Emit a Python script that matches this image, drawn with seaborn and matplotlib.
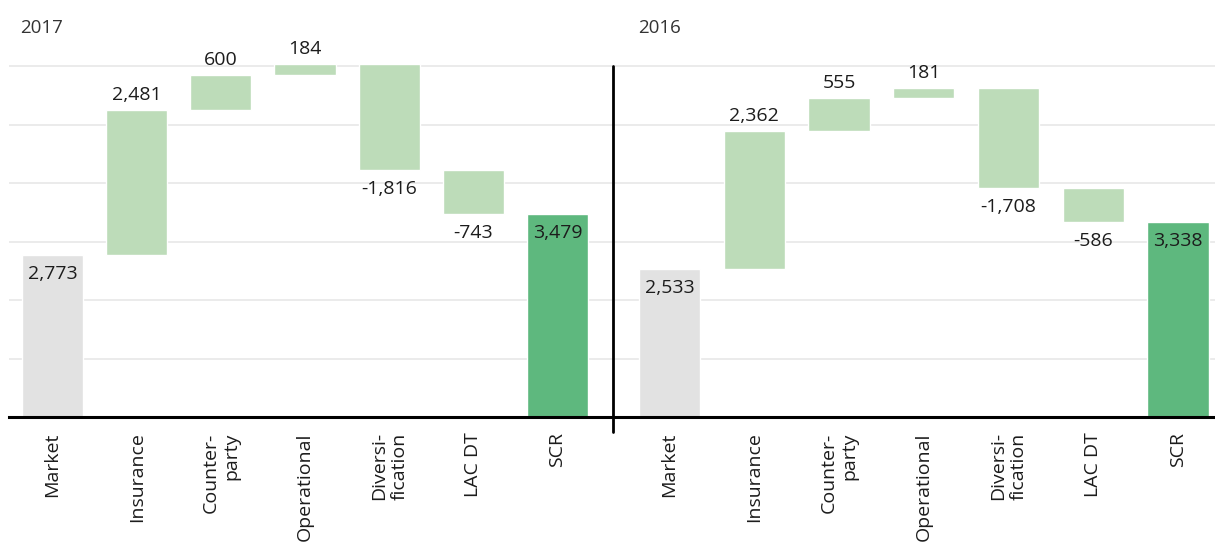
import matplotlib
matplotlib.use("Agg")
import matplotlib.pyplot as plt
from matplotlib.lines import Line2D
import seaborn as sns
import pandas as pd

# ---- data ----
categories = ["Market", "Insurance", "Counter-\nparty", "Operational",
              "Diversi-\nfication", "LAC DT", "SCR"]
kinds = ["start", "delta", "delta", "delta", "delta", "delta", "total"]
values_2017 = [2773, 2481, 600, 184, -1816, -743, 3479]
values_2016 = [2533, 2362, 555, 181, -1708, -586, 3338]
panel_titles = ["2017", "2016"]

# ---- style ----
sns.set_theme(style="white")
plt.rcParams["font.family"] = ["Open Sans", "DejaVu Sans"]

C_GRAY = "#e2e2e2"
C_LIGHT = "#bddcb9"
C_DARK = "#5eb87e"
TXT = "#1c1c1c"
FS = 14

W, H = 1215, 543
fig = plt.figure(figsize=(W / 100, H / 100), dpi=100)

px_per_unit = 58.45 / 1000.0
y0_px = 417
top_px = 10
ymax = (y0_px - top_px) / px_per_unit


def waterfall(values):
    lows, highs = [], []
    run = 0
    for v, k in zip(values, kinds):
        if k == "start":
            lo, hi = 0, v
            run = v
        elif k == "total":
            lo, hi = 0, v
        else:
            lo, hi = min(run, run + v), max(run, run + v)
            run += v
        lows.append(lo)
        highs.append(hi)
    return lows, highs


panels = [
    dict(vals=values_2017, x0=9, x1=613, c0=52.5, step=84.17, title_x=20),
    dict(vals=values_2016, x0=613, x1=1215, c0=669.5, step=84.75, title_x=638),
]

for p, title in zip(panels, panel_titles):
    ax = fig.add_axes([p["x0"] / W, 1 - y0_px / H,
                       (p["x1"] - p["x0"]) / W, (y0_px - top_px) / H])
    lows, highs = waterfall(p["vals"])
    colors = [C_GRAY if k == "start" else C_DARK if k == "total" else C_LIGHT
              for k in kinds]
    df = pd.DataFrame({"cat": categories,
                       "h": [hi - lo for lo, hi in zip(lows, highs)]})
    sns.barplot(data=df, x="cat", y="h", hue="cat", palette=colors,
                legend=False, width=0.725, saturation=1, ax=ax, zorder=2)
    for patch, lo in zip(ax.patches, lows):
        patch.set_y(lo)

    ax.set_xlim((p["x0"] - p["c0"]) / p["step"], (p["x1"] - p["c0"]) / p["step"])
    ax.set_ylim(0, ymax)
    ax.set_yticks(range(0, 7000, 1000))
    ax.set_yticklabels([])
    ax.yaxis.grid(True, color="#e8e8e8", lw=1.2)
    ax.set_axisbelow(True)
    ax.tick_params(axis="y", length=0)
    ax.tick_params(axis="x", length=0, pad=11, labelsize=FS, labelcolor=TXT)
    ax.set_xlabel("")
    ax.set_ylabel("")
    for s in ["left", "right", "top"]:
        ax.spines[s].set_visible(False)
    ax.spines["bottom"].set_color("black")
    ax.spines["bottom"].set_linewidth(2.2)
    ax.spines["bottom"].set_zorder(5)
    for lab in ax.get_xticklabels():
        lab.set_rotation(90)
        lab.set_va("top")
        lab.set_ha("center")
        lab.set_multialignment("right")
        lab.set_linespacing(1.15)
    ax.patch.set_alpha(0)

    for i, (v, k, lo, hi) in enumerate(zip(p["vals"], kinds, lows, highs)):
        if k in ("start", "total"):
            yref, off = hi, -17.3
        elif v >= 0:
            yref, off = hi, 7.2
        else:
            yref, off = lo, -17.3
        ax.annotate(f"{v:,}", xy=(i, yref), xytext=(0, off),
                    textcoords="offset points", ha="center", va="baseline",
                    fontsize=FS, color=TXT, zorder=6)

    fig.text(p["title_x"] / W, 1 - 33 / H, title, ha="left", va="baseline",
             fontsize=13.5, color="#333333")

fig.add_artist(Line2D([613 / W, 613 / W], [1 - 432 / H, 1 - 65.7 / H],
                      color="black", lw=2, transform=fig.transFigure))

fig.savefig("out.png", dpi=100)
